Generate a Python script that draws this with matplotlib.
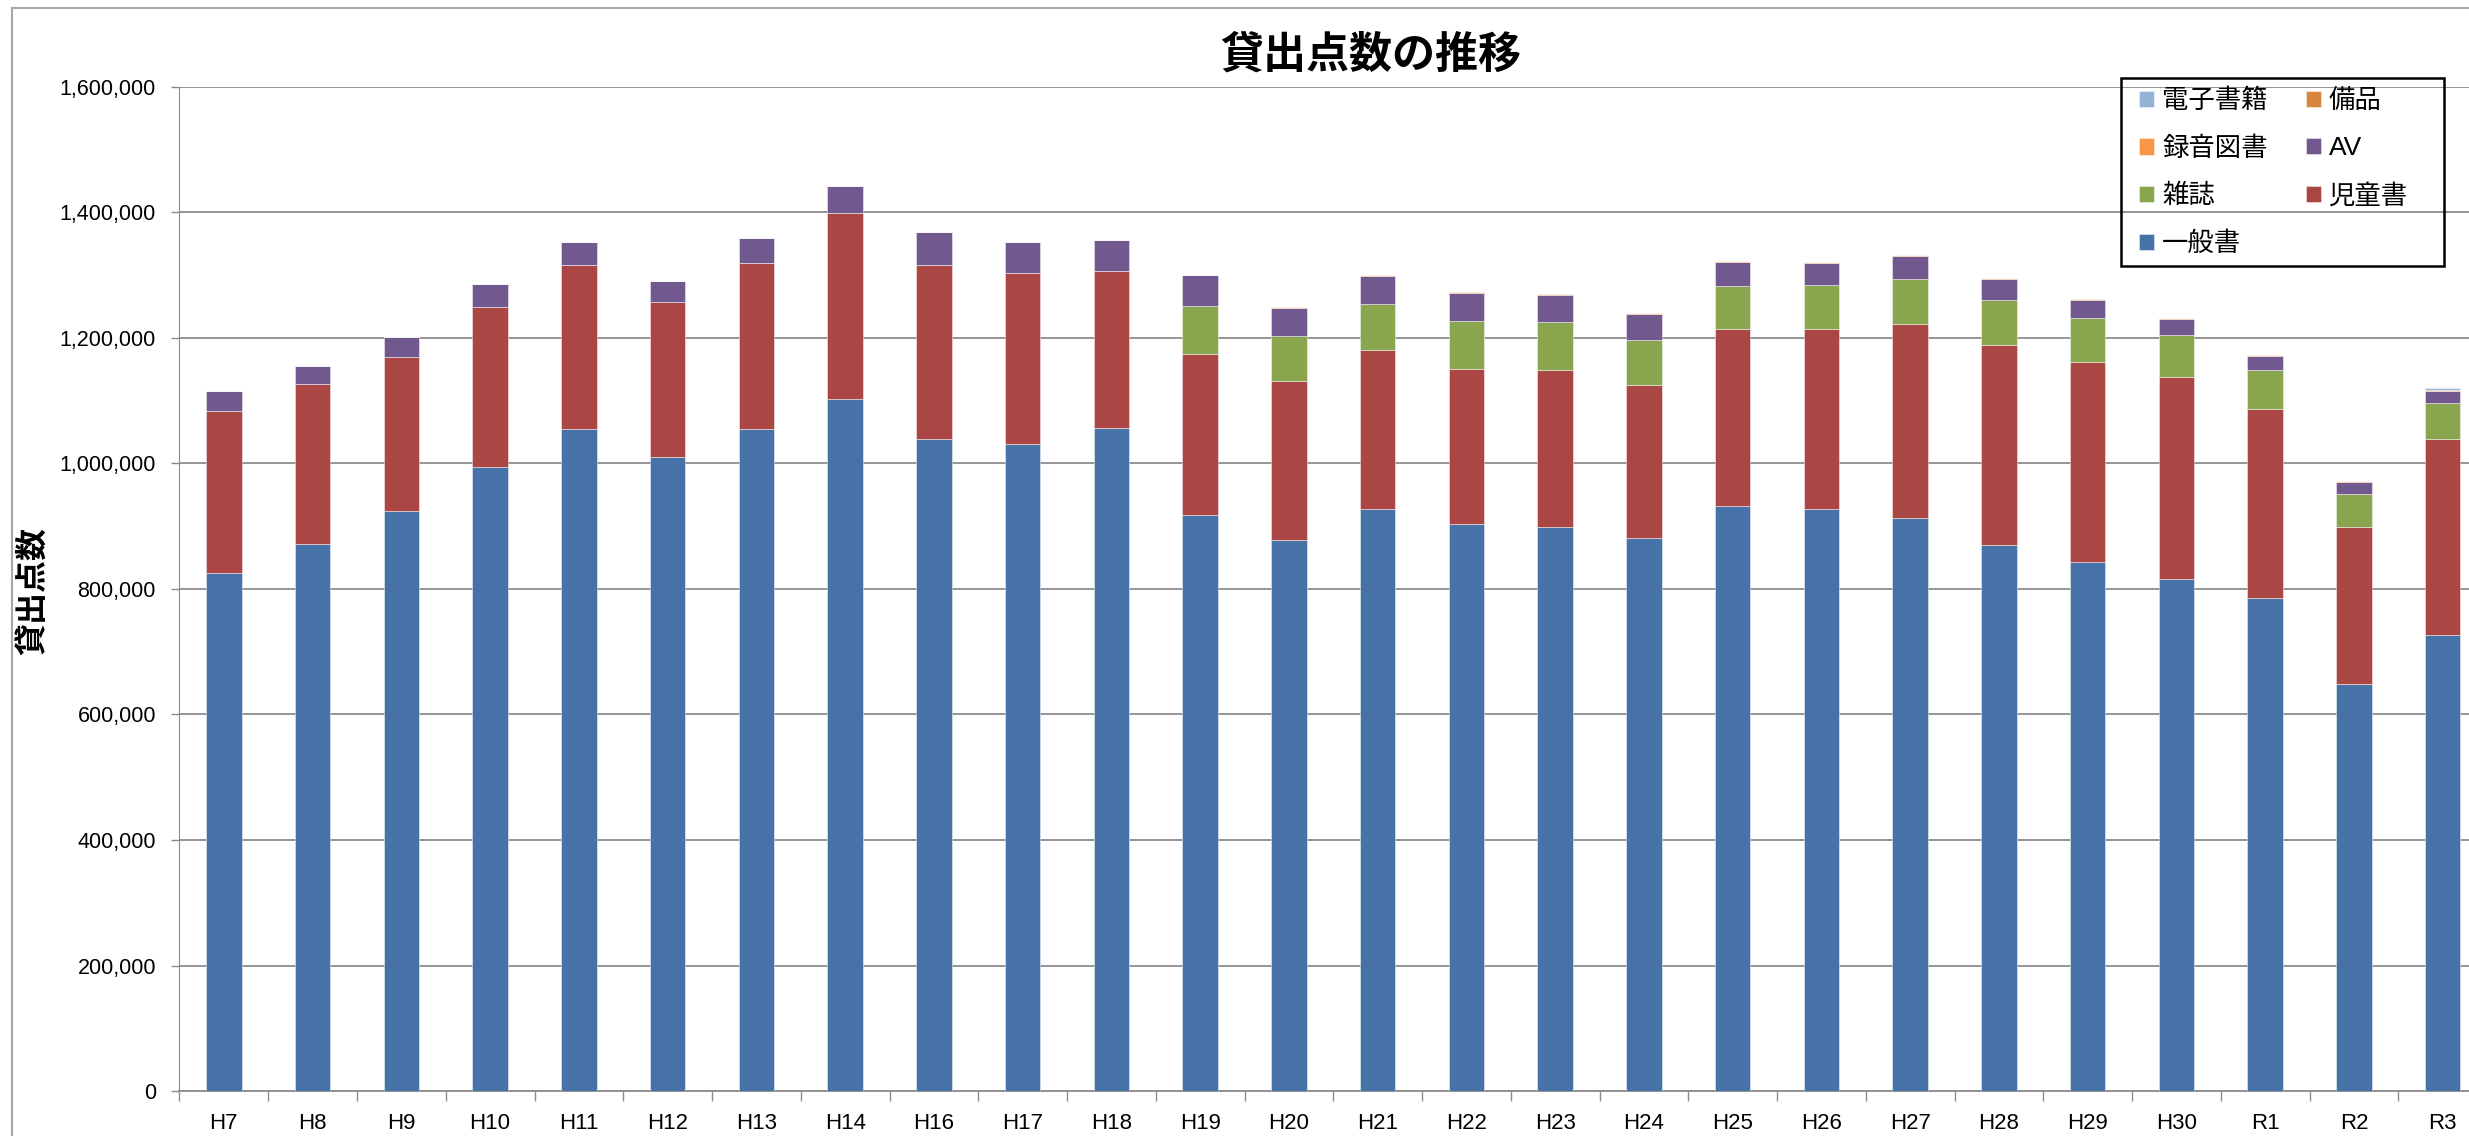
import numpy as np
import matplotlib
matplotlib.use("Agg")
import matplotlib.pyplot as plt
from matplotlib.patches import Rectangle
from matplotlib.ticker import FuncFormatter, FixedLocator

plt.rcParams['font.family'] = ['Liberation Sans', 'Noto Sans CJK JP']

# fiscal years (H15 is not in the source)
years = ['H7', 'H8', 'H9', 'H10', 'H11', 'H12', 'H13', 'H14', 'H16', 'H17',
         'H18', 'H19', 'H20', 'H21', 'H22', 'H23', 'H24', 'H25', 'H26', 'H27',
         'H28', 'H29', 'H30', 'R1', 'R2', 'R3']

general = [826000, 872000, 924500, 994300, 1054500, 1009600, 1053900, 1102100,
           1039100, 1030600, 1056700, 917700, 878600, 927400, 903000, 899000,
           881400, 932500, 927400, 912300, 870400, 842500, 816100, 785200,
           648700, 727100]
children = [258000, 253600, 245100, 255300, 261600, 247400, 265500, 296800,
            277500, 271800, 250200, 257000, 251900, 252500, 247900, 250200,
            242800, 282000, 287100, 309300, 318500, 318600, 321500, 301900,
            249900, 312400]
magazines = [0, 0, 0, 0, 0, 0, 0, 0, 0, 0, 0, 76600, 72100, 73200, 75500,
             76000, 72600, 68100, 68700, 71600, 71600, 70400, 66000, 61100,
             52600, 56800]
av = [31000, 29500, 31800, 35200, 36900, 33500, 39200, 42000, 52200, 50500,
      49400, 49400, 45400, 46000, 44300, 42600, 40900, 38000, 36300, 37700,
      33300, 28400, 26500, 23500, 19800, 19100]
audio = [0, 0, 0, 0, 0, 0, 0, 0, 0, 0, 0, 0, 1200, 1100, 1300, 1000, 1200,
         1100, 1000, 1100, 900, 900, 1000, 800, 900, 700]
equipment = [0, 0, 0, 0, 0, 0, 0, 0, 0, 0, 0, 0, 300, 300, 300, 300, 300,
             300, 300, 300, 300, 300, 300, 300, 300, 300]
ebooks = [0, 0, 0, 0, 0, 0, 0, 0, 0, 0, 0, 0, 0, 0, 0, 0, 0, 0, 0, 0, 0, 0,
          0, 0, 0, 3500]

series = [
    ('一般書', general, '#4672A8'),
    ('児童書', children, '#AA4643'),
    ('雑誌', magazines, '#89A54E'),
    ('AV', av, '#71588F'),
    ('録音図書', audio, '#F79646'),
    ('備品', equipment, '#DB843D'),
    ('電子書籍', ebooks, '#95B3D7'),
]

fig = plt.figure(figsize=(24.69, 11.36), dpi=100)
ax = fig.add_axes([0.0727, 0.0394, 0.9346, 0.8844])

x = np.arange(len(years))
bottom = np.zeros(len(years))
handles = {}
for name, vals, col in series:
    vals = np.array(vals, dtype=float)
    b = ax.bar(x, vals, width=0.4, bottom=bottom, color=col,
               edgecolor=(1, 1, 1, 0.45), linewidth=0.7, zorder=3)
    handles[name] = b
    bottom += vals

ax.set_xlim(-0.5, len(years) - 0.5)
ax.set_ylim(0, 1600000)
ax.set_yticks(np.arange(0, 1600001, 200000))
ax.yaxis.set_major_formatter(FuncFormatter(lambda v, p: f'{int(v):,}'))
ax.grid(axis='y', color='#8c8c8c', linewidth=1.3, zorder=0)

ax.set_xticks(x)
ax.set_xticklabels(years)
ax.xaxis.set_minor_locator(FixedLocator(np.arange(-0.5, len(years), 1.0)))
ax.tick_params(axis='x', which='major', length=0, pad=16, labelsize=16)
ax.tick_params(axis='x', which='minor', length=7.5, width=1, color='#8c8c8c')
ax.tick_params(axis='y', length=6, width=1, color='#8c8c8c', pad=11,
               labelsize=15.5)

for s in ['top', 'right']:
    ax.spines[s].set_visible(False)
ax.spines['left'].set_color('#8c8c8c')
ax.spines['bottom'].set_color('#8c8c8c')
ax.spines['bottom'].set_linewidth(1.3)

# title and y label
fig.text(0.5553, 0.9509, '貸出点数の推移', ha='center', va='center',
         fontsize=31, fontweight='bold')
fig.text(0.014, 0.48, '貸出点数', ha='center', va='center', rotation=90,
         fontsize=23, fontweight='bold')

# legend (two columns, frame drawn separately)
order = ['電子書籍', '録音図書', '雑誌', '一般書', '備品', 'AV', '児童書']
leg = fig.legend([handles[n] for n in order], order, ncol=2,
                 loc='center left', bbox_to_anchor=(0.8665, 0.8482),
                 frameon=False, fontsize=19, borderpad=0, borderaxespad=0,
                 handlelength=0.57, handleheight=0.57, handletextpad=0.29,
                 columnspacing=1.45, labelspacing=0.88)

fig.add_artist(Rectangle((0.8591, 0.7661), 0.1308, 0.165,
                         transform=fig.transFigure, fill=False,
                         edgecolor='black', linewidth=1.8))

# outer chart border
fig.add_artist(Rectangle((12 / 2469, -0.1), 1.2, 1.1 - 7.7 / 1136,
                         transform=fig.transFigure, fill=False,
                         edgecolor='#a6a6a6', linewidth=1.5))

fig.savefig('out.png', dpi=100, facecolor='white')
